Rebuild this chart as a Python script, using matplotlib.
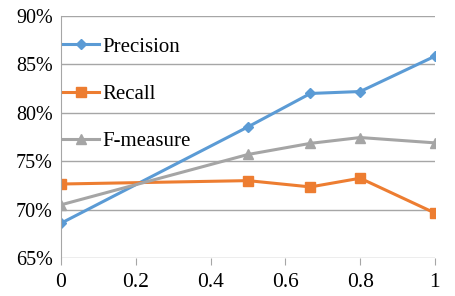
"""Precision / recall / F-measure against threshold."""

import matplotlib
matplotlib.use("Agg")
import matplotlib.pyplot as plt
from matplotlib.ticker import FuncFormatter

x_values = [0, 0.5, 0.667, 0.8, 1]
precision = [68.6, 78.55, 82.0, 82.2, 85.85]
recall = [72.65, 73.0, 72.35, 73.25, 69.65]
f_measure = [70.5, 75.7, 76.85, 77.45, 76.9]
x_ticks = [0, 0.2, 0.4, 0.6, 0.8, 1]
y_ticks = [65, 70, 75, 80, 85, 90]

plt.rcParams["font.family"] = ["Liberation Serif", "DejaVu Serif"]

figure = plt.figure(figsize=(4.55, 2.96), dpi=100)
axis = figure.add_axes([0.134, 0.128, 0.822, 0.818])

grid_color = "#a6a6a6"
axis.plot(x_values, precision, color="#5b9bd5", marker="D", markersize=5, linewidth=2.2, label="Precision")
axis.plot(x_values, recall, color="#ed7d31", marker="s", markersize=7, linewidth=2.2, label="Recall")
axis.plot(x_values, f_measure, color="#a5a5a5", marker="^", markersize=7, linewidth=2.2, label="F-measure")

axis.set_xlim(0, 1)
axis.set_ylim(65, 90)
axis.set_xticks(x_ticks)
axis.set_yticks(y_ticks)
axis.xaxis.set_major_formatter(FuncFormatter(lambda v, _: "%g" % v))
axis.yaxis.set_major_formatter(FuncFormatter(lambda v, _: "%d%%" % v))
axis.grid(axis="y", color=grid_color, linewidth=1)
axis.set_axisbelow(True)
for side in ("top", "right", "bottom"):
    axis.spines[side].set_visible(False)
axis.spines["left"].set_color(grid_color)
axis.tick_params(axis="x", length=5, color=grid_color, labelsize=15.5, pad=6)
axis.tick_params(axis="y", length=0, labelsize=14.5, pad=6)

axis.legend(loc="upper left", bbox_to_anchor=(-0.018, 0.947), frameon=False, fontsize=15,
            handlelength=1.75, handletextpad=0.15, labelspacing=1.33, borderaxespad=0)

figure.savefig("out.png", dpi=100)
